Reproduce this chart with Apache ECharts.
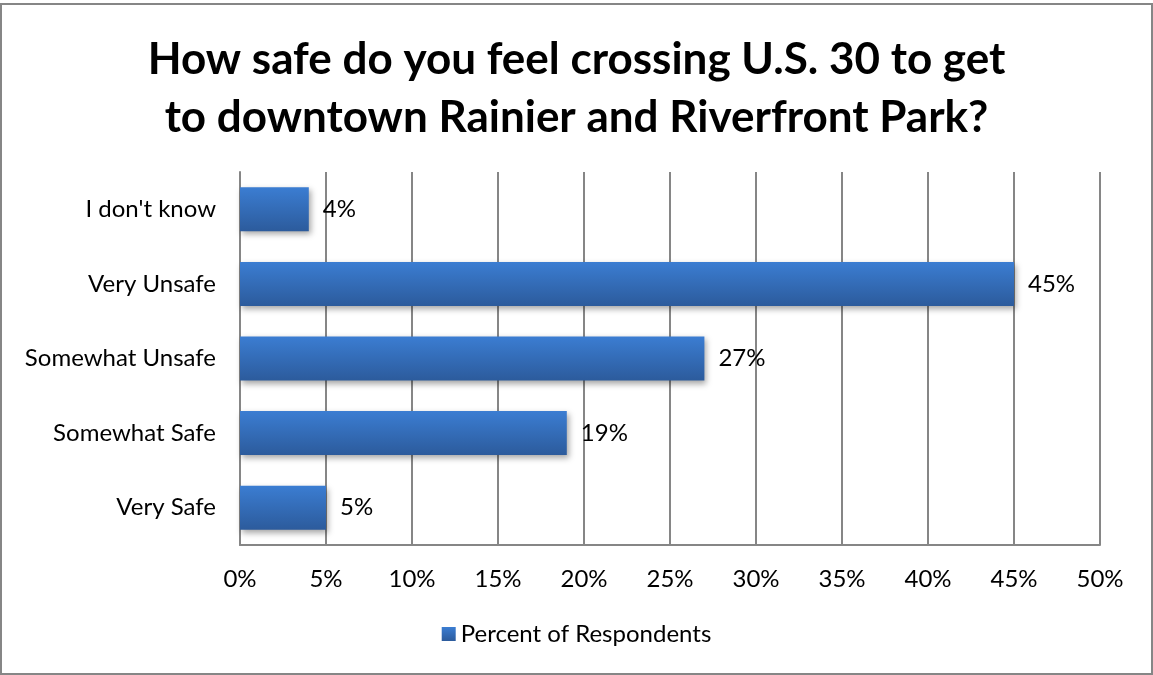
<!DOCTYPE html>
<html><head><meta charset="utf-8">
<script src="https://cdn.jsdelivr.net/npm/echarts@6/dist/echarts.min.js"></script>
<style>html,body{margin:0;padding:0;background:#fff}#c{width:1153px;height:675px}</style>
</head><body><div id="c"></div>
<script>
const categories = ["Very Safe", "Somewhat Safe", "Somewhat Unsafe", "Very Unsafe", "I don't know"];
const values = [5, 19, 27, 45, 4];
const seriesName = "Percent of Respondents";
const titleText = "How safe do you feel crossing U.S. 30 to get\nto downtown Rainier and Riverfront Park?";
const FONT = "Lato, 'Open Sans', sans-serif";
const chart = echarts.init(document.getElementById('c'));
const grad = new echarts.graphic.LinearGradient(0,0,0,1,[{offset:0,color:'#3b7dd2'},{offset:1,color:'#2c5b9c'}]);
chart.setOption({
  animation:false,
  title:{text:titleText,left:'center',top:26,textStyle:{fontFamily:FONT,fontSize:44,fontWeight:'bold',color:'#000',lineHeight:58}},
  graphic:[{type:'rect',shape:{x:1,y:4,width:1151,height:670},style:{fill:'none',stroke:'#868686',lineWidth:2},silent:true}],
  legend:{bottom:24,left:'center',itemWidth:14,itemHeight:14,itemGap:8,icon:'rect',textStyle:{fontFamily:FONT,fontSize:24,color:'#000'},data:[{name:seriesName,itemStyle:{color:grad}}]},
  grid:{left:240,right:53,top:172,bottom:130},
  xAxis:{type:'value',min:0,max:50,interval:5,
    axisLabel:{formatter:'{value}%',fontFamily:FONT,fontSize:24,color:'#000',margin:22},
    axisLine:{show:true,lineStyle:{color:'#868686',width:2}},axisTick:{show:false},
    splitLine:{show:true,lineStyle:{color:'#868686',width:2}}},
  yAxis:{type:'category',data:categories,
    axisLabel:{fontFamily:FONT,fontSize:24,color:'#000',margin:24},
    axisLine:{show:true,lineStyle:{color:'#868686',width:2}},axisTick:{show:false}},
  series:[{name:seriesName,type:'bar',data:values,barCategoryGap:'41%',
    itemStyle:{color:grad,shadowColor:'rgba(0,0,0,0.35)',shadowBlur:6,shadowOffsetX:2,shadowOffsetY:3},
    label:{show:true,position:'right',distance:14,formatter:'{c}%',fontFamily:FONT,fontSize:24,color:'#000'}}]
});
</script></body></html>
